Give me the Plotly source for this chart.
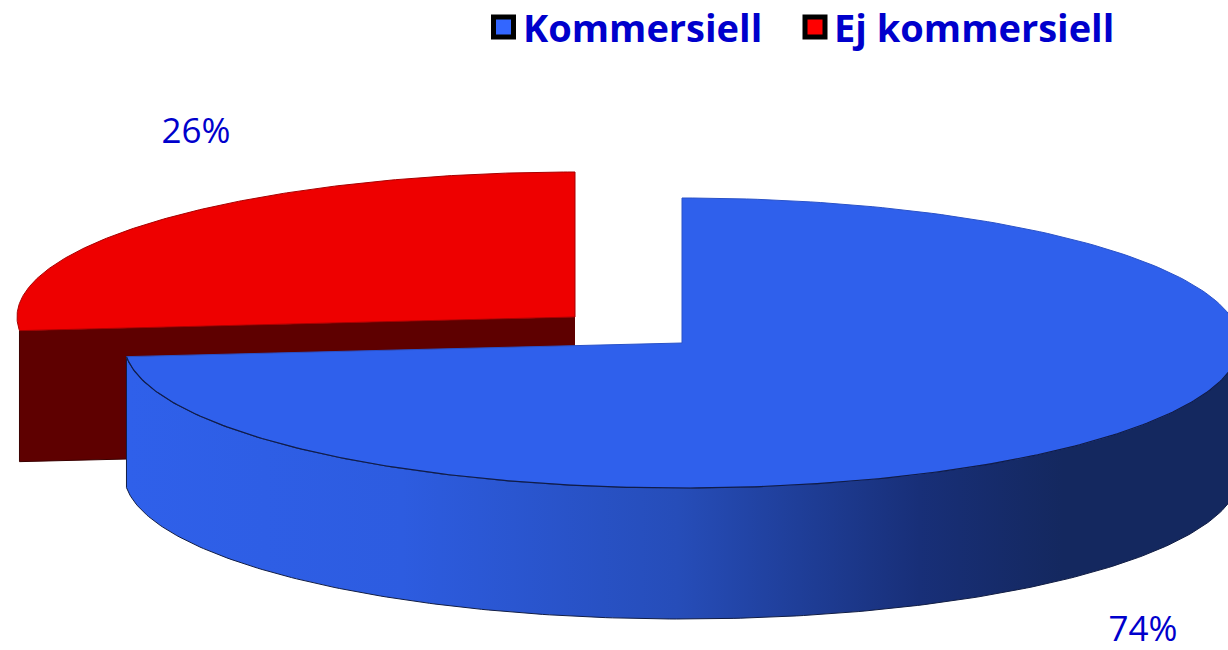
import numpy as np
import plotly.graph_objects as go

categories = ["Kommersiell", "Ej kommersiell"]
shares = [73.5, 26.5]
share_labels = ["74%", "26%"]
top_colors = ["#2f60ec", "#ee0000"]

W, H = 1228, 650
RX, RY, DEPTH = 558, 145, 131
C_BLUE = (682, 343)
C_RED = (575, 317)
TEXT = "#0000cc"


def arc(center, a0, a1, n=240):
    t = np.radians(np.linspace(a0, a1, n))
    return center[0] + RX * np.sin(t), center[1] - RY * np.cos(t)


split = shares[0] / sum(shares) * 360
fig = go.Figure()

# red slice: inner wall, then top face
xa, ya = arc(C_RED, split, 360)
fig.add_trace(go.Scatter(
    x=[C_RED[0], xa[0], xa[0], C_RED[0]],
    y=[C_RED[1], ya[0], ya[0] + DEPTH, C_RED[1] + DEPTH],
    mode="lines", fill="toself", fillcolor="#5e0000",
    line=dict(color="#3a0000", width=1), name="Ej kommersiell wall"))
fig.add_trace(go.Scatter(
    x=np.r_[C_RED[0], xa, C_RED[0]], y=np.r_[C_RED[1], ya, C_RED[1]],
    mode="lines", fill="toself", fillcolor=top_colors[1],
    line=dict(color="#a80000", width=1), name=categories[1]))

# blue slice: gradient outer wall, then top face
xb, yb = arc(C_BLUE, 90, split)
fig.add_trace(go.Scatter(
    x=np.r_[xb, xb[::-1]], y=np.r_[yb, yb[::-1] + DEPTH],
    mode="lines", fill="toself",
    fillgradient=dict(type="horizontal", start=127, stop=1228, colorscale=[
        [0.0, "#2f60ea"], [0.25, "#2d5ce0"], [0.5, "#264db9"],
        [0.72, "#182f78"], [0.85, "#14285f"], [1.0, "#14285f"]]),
    line=dict(color="#111d44", width=1), name="Kommersiell wall"))
xt, yt = arc(C_BLUE, 0, split)
fig.add_trace(go.Scatter(
    x=np.r_[C_BLUE[0], xt, C_BLUE[0]], y=np.r_[C_BLUE[1], yt, C_BLUE[1]],
    mode="lines", fill="toself", fillcolor=top_colors[0],
    line=dict(color="#2a52c8", width=1), name=categories[0]))
fig.add_trace(go.Scatter(
    x=xb, y=yb, mode="lines", line=dict(color="#101c48", width=1.2), showlegend=False))

# share labels
fig.add_trace(go.Scatter(
    x=[1143, 196], y=[632, 134], mode="text", text=share_labels,
    textposition="middle center", cliponaxis=False,
    textfont=dict(family="Open Sans", size=35, color=TEXT)))

# legend keys and labels
fig.add_trace(go.Scatter(
    x=[503.5, 815], y=[27, 27], mode="markers",
    marker=dict(symbol="square", size=20, color=["#3366ff", "#ff0000"],
                line=dict(color="#000000", width=5))))
fig.add_trace(go.Scatter(
    x=[523, 834], y=[32, 32], mode="text", text=categories,
    textposition="middle right", cliponaxis=False,
    textfont=dict(family="Open Sans", size=38, color=TEXT, weight="bold")))

fig.update_layout(
    width=W, height=H, margin=dict(l=0, r=0, t=0, b=0),
    paper_bgcolor="white", plot_bgcolor="white", showlegend=False,
    xaxis=dict(range=[0, W], visible=False, fixedrange=True),
    yaxis=dict(range=[H, 0], visible=False, fixedrange=True),
)
fig.write_html("out.html", config={"displayModeBar": False},
               post_script="document.body.style.margin='0';document.body.style.overflow='hidden';")
